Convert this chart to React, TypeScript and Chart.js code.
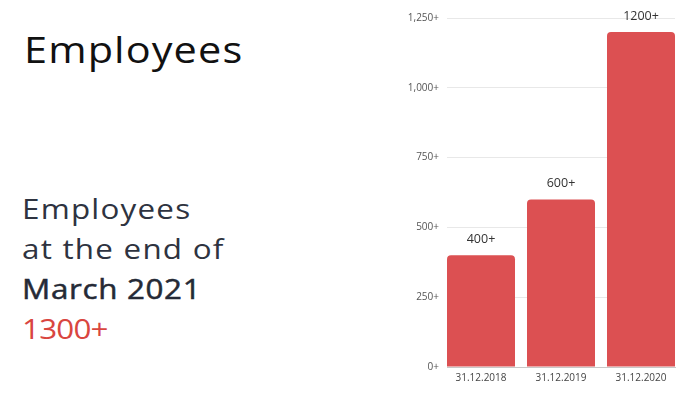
import React, { useEffect, useRef } from "react";
import { Chart, registerables } from "chart.js";

Chart.register(...registerables);

const categories = ["31.12.2018", "31.12.2019", "31.12.2020"];
const employees = [400, 600, 1200];
const barLabels = ["400+", "600+", "1200+"];
const yTickValues = [0, 250, 500, 750, 1000, 1250];

const FONT = "'Open Sans', sans-serif";

const labelPlugin = {
  id: "barLabels",
  afterDatasetsDraw(chart: any) {
    const ctx = chart.ctx;
    const meta = chart.getDatasetMeta(0);
    ctx.save();
    ctx.fillStyle = "#333";
    ctx.font = `12.5px ${FONT}`;
    ctx.textAlign = "center";
    ctx.textBaseline = "alphabetic";
    meta.data.forEach((el: any, i: number) => {
      ctx.fillText(barLabels[i], el.x, el.y - 12);
    });
    ctx.restore();
  },
};

export default function App() {
  const ref = useRef<HTMLCanvasElement>(null);
  useEffect(() => {
    if (!ref.current) return;
    const chart = new Chart(ref.current, {
      type: "bar",
      data: {
        datasets: [
          {
            data: categories.map((c, i) => ({ x: i, y: employees[i] })),
            backgroundColor: "#dc5052",
            borderRadius: 4,
            borderSkipped: "start",
            barPercentage: 0.85,
            categoryPercentage: 1,
          },
        ],
      },
      options: {
        responsive: false,
        animation: false,
        layout: { padding: { top: 18, right: 10, left: 0, bottom: 0 } },
        plugins: { legend: { display: false }, tooltip: { enabled: false } },
        scales: {
          x: {
            type: "linear",
            offset: false,
            min: -0.425,
            max: categories.length - 1 + 0.425,
            afterBuildTicks: (s: any) => {
              s.ticks = categories.map((c, i) => ({ value: i }));
            },
            grid: { display: false, drawTicks: false, offset: false },
            border: { display: true, color: "#c8c8c8" },
            ticks: {
              color: "#444",
              font: { size: 10, family: FONT },
              padding: 5,
              callback: (v: any) => categories[Math.round(Number(v))] ?? "",
            },
            afterFit: (s: any) => {
              s.height = 27;
            },
          },
          y: {
            min: 0,
            max: 1250,
            afterBuildTicks: (s: any) => {
              s.ticks = yTickValues.map((v) => ({ value: v }));
            },
            grid: { color: "#e8e8e8", drawTicks: false },
            border: { display: false },
            ticks: {
              color: "#555",
              font: { size: 10, family: FONT },
              padding: 8,
              callback: (v: any) => Number(v).toLocaleString("en-US") + "+",
            },
            afterFit: (s: any) => {
              s.width = 57;
            },
          },
        },
      },
      plugins: [labelPlugin],
    });
    return () => chart.destroy();
  }, []);

  const sub: React.CSSProperties = {
    position: "absolute",
    left: 22,
    fontFamily: FONT,
    fontSize: 28,
    fontWeight: 400,
    letterSpacing: 1.1,
    color: "#2e3340",
    lineHeight: "40px",
    whiteSpace: "nowrap",
    transform: "scaleX(1.12)",
    transformOrigin: "left top",
  };

  return (
    <div style={{ position: "fixed", left: 0, top: 0, width: 695, height: 394, background: "#fff", overflow: "hidden" }}>
      <div
        style={{
          position: "absolute",
          left: 24,
          top: 24,
          fontFamily: FONT,
          fontSize: 37,
          fontWeight: 400,
          letterSpacing: 1,
          color: "#111",
          lineHeight: "50px",
          whiteSpace: "nowrap",
          transform: "scaleX(1.12)",
          transformOrigin: "left top",
        }}
      >
        Employees
      </div>
      <div style={{ ...sub, top: 188 }}>
        <div>Employees</div>
        <div>at the end of</div>
        <div style={{ fontWeight: 500, letterSpacing: 0.6, color: "#252a36", WebkitTextStroke: "0.5px #252a36" }}>
          March 2021
        </div>
        <div style={{ color: "#d9463f", letterSpacing: -0.7 }}>1300+</div>
      </div>
      <canvas
        ref={ref}
        width={295}
        height={394}
        style={{ position: "absolute", left: 390, top: 0, width: 295, height: 394 }}
      />
    </div>
  );
}
